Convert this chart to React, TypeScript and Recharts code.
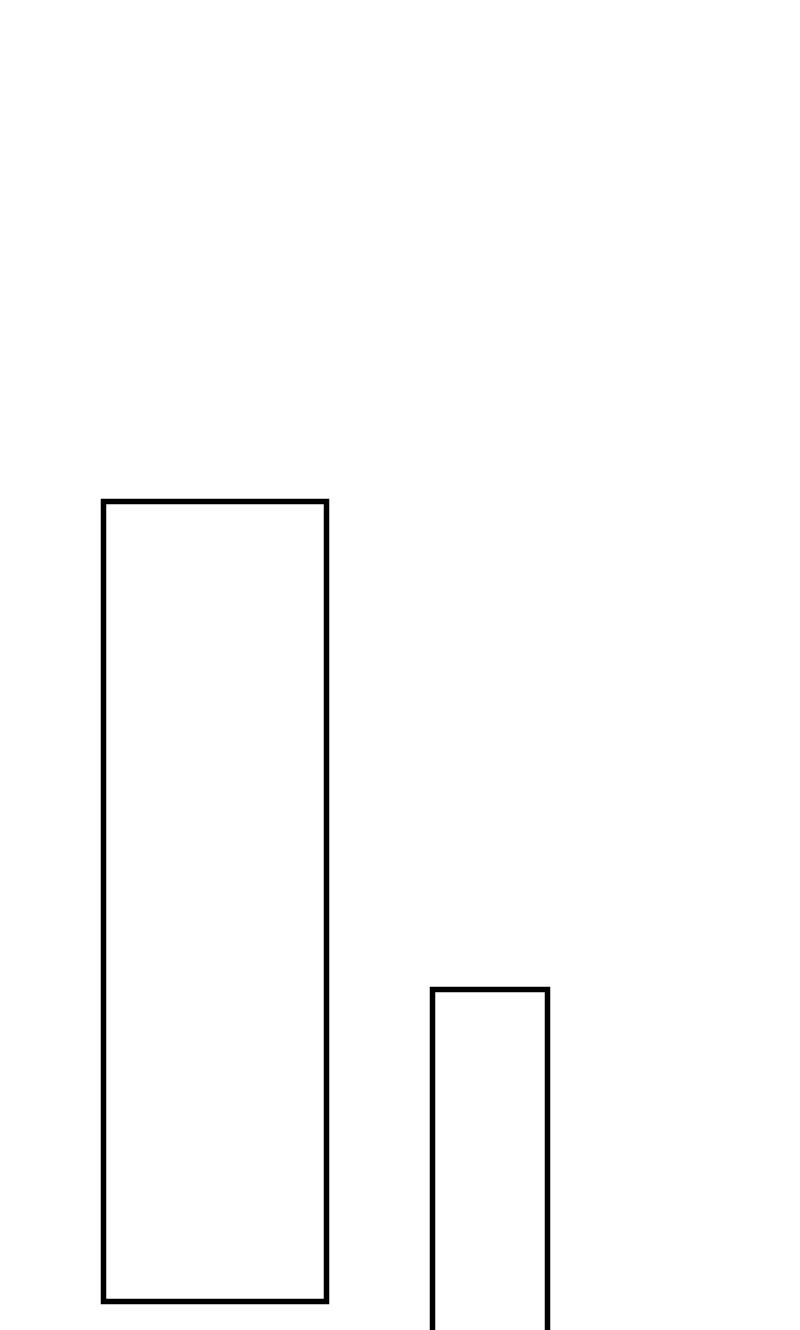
import React from 'react';
import { BarChart, Bar, XAxis, YAxis } from 'recharts';

// two outlined bars, the second one runs off the bottom of the page
const categories = ['A', 'B'];
const lows = [0, -10];
const highs = [100, 39];
const barSizes = [223, 115];

const data = categories.map((name, i) => ({
    name,
    first: i === 0 ? [lows[i], highs[i]] : null,
    second: i === 1 ? [lows[i], highs[i]] : null,
}));

export default function App() {
    // fixed frame the size of the window so the tall chart gets cut off without scrollbars
    return (
        <div style={{ position: 'absolute', left: 0, top: 0, width: 800, height: 1330, overflow: 'hidden' }}>
            <BarChart
                width={800}
                height={1381.5}
                data={data}
                margin={{ top: 501.5, right: 172.5, left: 77.5, bottom: 0 }}
                barGap={0}
            >
                <XAxis xAxisId="a" dataKey="name" hide />
                <XAxis xAxisId="b" dataKey="name" hide />
                <YAxis hide domain={[-10, 100]} />
                <Bar
                    xAxisId="a"
                    dataKey="first"
                    barSize={barSizes[0]}
                    fill="none"
                    stroke="#000"
                    strokeWidth={5.5}
                    isAnimationActive={false}
                />
                <Bar
                    xAxisId="b"
                    dataKey="second"
                    barSize={barSizes[1]}
                    fill="none"
                    stroke="#000"
                    strokeWidth={5.5}
                    isAnimationActive={false}
                />
            </BarChart>
        </div>
    );
}
